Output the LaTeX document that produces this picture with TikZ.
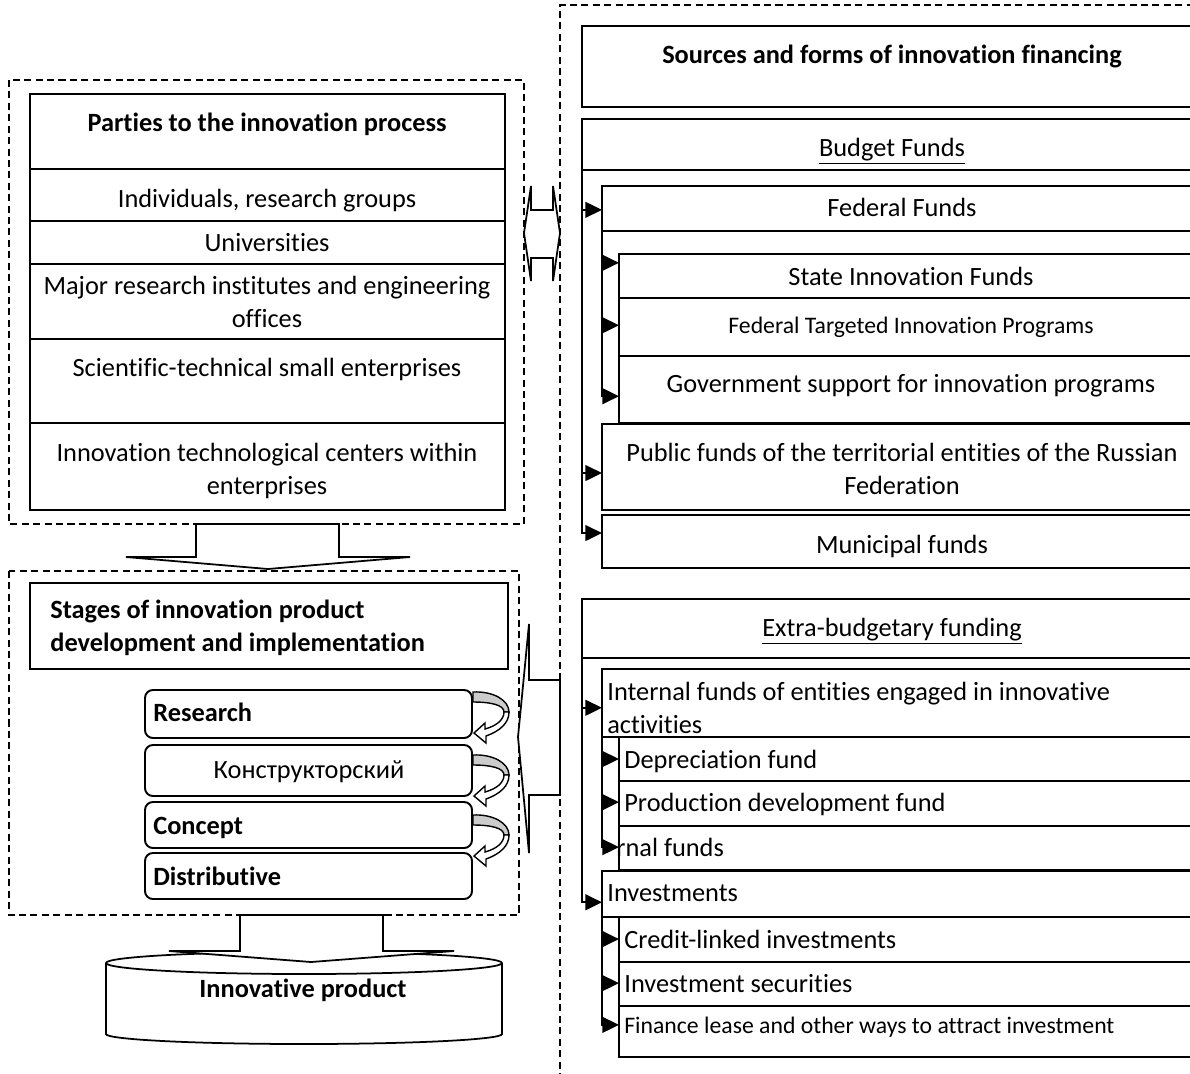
\documentclass[tikz,border=0pt]{standalone}
\usepackage{fontspec}
\setmainfont{Carlito}[Ligatures=NoCommon]
\usetikzlibrary{calc,fit,arrows.meta}

\tikzset{
  cell/.style={draw, line width=1.1pt, inner sep=0pt, outer sep=0pt},
  stagebox/.style={cell, rounded corners=4.5pt},
  dashbox/.style={draw, line width=0.7pt, dash pattern=on 4pt off 2.5pt},
  txt/.style={inner sep=0pt, anchor=base},
  boldtxt/.style={txt, font=\fontsize{15}{18.7}\selectfont\bfseries},
  smalltxt/.style={txt, font=\fontsize{13.5}{16}\selectfont},
  feed/.style={line width=1.1pt, -{Triangle[length=9.5pt,width=9pt]}},
  blockarrow/.style={draw, fill=white, line width=1pt, line join=miter},
  turn/.pic={
    \draw[line width=0.8pt, fill=gray!40] (0,0) .. controls (20,-1) and (36,8) .. (36,20)
      -- (31,20) .. controls (31,13) and (18,10) .. (0,10) -- cycle;
    \draw[line width=0.8pt, fill=white, line join=miter] (36,20) .. controls (36,31) and (27,39) .. (13,44)
      -- (13,51) -- (1,41) -- (12,31) -- (12,37) .. controls (23,34) and (31,28) .. (31,20) -- cycle;
  }
}

\begin{document}
\begin{tikzpicture}[x=0.02cm, y=-0.02cm, font=\fontsize{15}{18.7}\selectfont]
	\useasboundingbox (0,0) rectangle (1190,1073);

	% dashed frames
	\draw[dashbox] (9,80) rectangle (524,524);
	\draw[dashbox] (9,571) rectangle (519,915);
	\draw[dashbox] (560,1080) -- (560,5) -- (1200,5);

	% parties to the innovation process
	\node[cell, fit={(30,94) (505,169)}] (parties) {};
	\node[cell, fit={(30,169) (505,221)}] (groups) {};
	\node[cell, fit={(30,221) (505,264)}] (univ) {};
	\node[cell, fit={(30,264) (505,339)}] (inst) {};
	\node[cell, fit={(30,339) (505,423)}] (smallent) {};
	\node[cell, fit={(30,423) (505,510)}] (centers) {};
	\node[boldtxt] (t-parties) at (267,131) {Parties to the innovation process};
	\node[txt] (t-groups) at (267,207) {Individuals, research groups};
	\node[txt] (t-univ) at (267,251) {Universities};
	\node[txt, anchor=center, align=center] (t-inst) at (267,302) {Major research institutes and engineering\\offices};
	\node[txt] (t-smallent) at (267,376) {Scientific-technical small enterprises};
	\node[txt, anchor=center, align=center] (t-centers) at (267,471) {Innovation technological centers within\\enterprises};

	% stages
	\node[cell, fit={(30,583) (508,669)}] (stages) {};
	\node[boldtxt, anchor=west, align=left] (t-stages) at (50,628) {Stages of innovation product\\development and implementation};
	\node[stagebox, fit={(145,690) (472,738)}] (research) {};
	\node[stagebox, fit={(145,745) (472,796)}] (design) {};
	\node[stagebox, fit={(145,802) (472,848)}] (concept) {};
	\node[stagebox, fit={(145,853) (472,899)}] (distrib) {};
	\node[boldtxt, anchor=base west] (t-research) at (153,721) {Research};
	\node[txt] (t-design) at (309,778) {Конструкторский};
	\node[boldtxt, anchor=base west] (t-concept) at (153,834) {Concept};
	\node[boldtxt, anchor=base west] (t-distrib) at (153,885) {Distributive};
	\pic at (473,692) {turn};
	\pic at (473,755) {turn};
	\pic at (473,815) {turn};

	% block arrows
	\draw[blockarrow] (196,524) -- (196,557) -- (126,557) -- (268,569) -- (410,557) -- (339,557) -- (339,524) -- cycle;
	\draw[blockarrow] (518,737) -- (529,624) -- (529,680) -- (560,680) -- (560,795) -- (529,795) -- (529,853) -- cycle;
	\draw[blockarrow] (524,233) -- (531,186) -- (531,210) -- (553,210) -- (553,186) -- (560,233)
		-- (553,281) -- (553,258) -- (531,258) -- (531,281) -- cycle;

	% innovative product
	\draw[line width=1pt] (106,963) -- (106,1034) arc[start angle=180, end angle=0, x radius=198, y radius=10] -- (502,963);
	\draw[line width=1pt, fill=white] (304,963) ellipse [x radius=198, y radius=11];
	\draw[blockarrow] (240,915) -- (240,951) -- (169,951) -- (311,962) -- (454,951) -- (383,951) -- (383,915) -- cycle;
	\node[boldtxt] (t-product) at (303,997) {Innovative product};

	% sources and forms of financing
	\node[cell, fit={(582,26) (1202,107)}] (sources) {};
	\node[boldtxt] (t-sources) at (892,63) {Sources and forms of innovation financing};
	\node[cell, fit={(582,119) (1202,170)}] (budget) {};
	\node[txt] (t-budget) at (892,156) {\underline{Budget Funds}};
	\node[cell, fit={(602,186) (1202,231)}] (federal) {};
	\node[txt] (t-federal) at (902,216) {Federal Funds};
	\node[cell, fit={(619,254) (1202,298)}] (state) {};
	\node[txt] (t-state) at (911,285) {State Innovation Funds};
	\node[cell, fit={(619,298) (1202,356)}] (target) {};
	\node[smalltxt] (t-target) at (911,333) {Federal Targeted Innovation Programs};
	\node[cell, fit={(619,356) (1202,423)}] (support) {};
	\node[txt] (t-support) at (911,392) {Government support for innovation programs};
	\node[cell, fit={(602,424) (1202,510)}] (regional) {};
	\node[txt, anchor=center, align=center] (t-regional) at (902,469) {Public funds of the territorial entities of the Russian\\Federation};
	\node[cell, fit={(602,515) (1202,568)}] (municipal) {};
	\node[txt] (t-municipal) at (902,553) {Municipal funds};

	\node[cell, fit={(582,599) (1202,658)}] (extra) {};
	\node[txt] (t-extra) at (892,636) {\underline{Extra-budgetary funding}};
	\node[cell, fit={(602,669) (1202,737)}] (internal) {};
	\node[txt, anchor=west, align=left] (t-internal) at (607,708) {Internal funds of entities engaged in innovative\\activities};
	\node[cell, fit={(619,737) (1202,781)}] (deprec) {};
	\node[txt, anchor=base west] (t-deprec) at (624,768) {Depreciation fund};
	\node[cell, fit={(619,781) (1202,826)}] (develop) {};
	\node[txt, anchor=base west] (t-develop) at (624,811) {Production development fund};
	\node[cell, fit={(619,826) (1202,870)}] (external) {};
	\node[txt, anchor=base west] (t-external) at (616,856) {rnal funds};
	\node[cell, fit={(602,871) (1202,917)}] (invest) {};
	\node[txt, anchor=base west] (t-invest) at (607,901) {Investments};
	\node[cell, fit={(619,917) (1202,962)}] (credit) {};
	\node[txt, anchor=base west] (t-credit) at (624,948) {Credit-linked investments};
	\node[cell, fit={(619,962) (1202,1006)}] (securities) {};
	\node[txt, anchor=base west] (t-securities) at (624,992) {Investment securities};
	\node[cell, fit={(619,1006) (1202,1057)}] (lease) {};
	\node[smalltxt, anchor=base west] (t-lease) at (624,1033) {Finance lease and other ways to attract investment};

	% feeds
	\foreach \n/\r in {federal/0.53, regional/0.57, municipal/0.34}
		\draw[feed] (budget.south west) |- ($(\n.north west)!\r!(\n.south west)$);
	\foreach \n/\r in {state/0.2, target/0.47, support/0.6}
		\draw[feed] (federal.south west) |- ($(\n.north west)!\r!(\n.south west)$);
	\foreach \n/\r in {internal/0.57, invest/0.68}
		\draw[feed] (extra.south west) |- ($(\n.north west)!\r!(\n.south west)$);
	\foreach \n/\r in {deprec/0.5, develop/0.47, external/0.48}
		\draw[feed] (internal.south west) |- ($(\n.north west)!\r!(\n.south west)$);
	\foreach \n/\r in {credit/0.49, securities/0.48, lease/0.37}
		\draw[feed] (invest.south west) |- ($(\n.north west)!\r!(\n.south west)$);
\end{tikzpicture}
\end{document}
